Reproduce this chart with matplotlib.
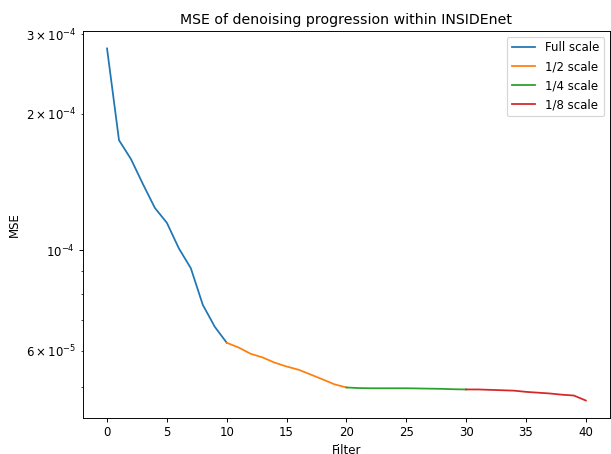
import matplotlib
matplotlib.use('Agg')
import matplotlib.pyplot as plt

full_x = list(range(0, 11))
full_mse = [2.79e-4, 1.75e-4, 1.59e-4, 1.40e-4, 1.24e-4, 1.15e-4,
            1.01e-4, 9.13e-5, 7.58e-5, 6.78e-5, 6.25e-5]

half_x = list(range(10, 21))
half_mse = [6.25e-5, 6.10e-5, 5.91e-5, 5.80e-5, 5.65e-5, 5.54e-5,
            5.45e-5, 5.32e-5, 5.19e-5, 5.06e-5, 4.98e-5]

quarter_x = list(range(20, 31))
quarter_mse = [4.98e-5, 4.965e-5, 4.96e-5, 4.96e-5, 4.96e-5, 4.96e-5,
               4.955e-5, 4.95e-5, 4.945e-5, 4.935e-5, 4.93e-5]

eighth_x = list(range(30, 41))
eighth_mse = [4.93e-5, 4.93e-5, 4.92e-5, 4.91e-5, 4.90e-5, 4.87e-5,
              4.85e-5, 4.83e-5, 4.80e-5, 4.78e-5, 4.66e-5]

# original looks like a default figure saved at a lower dpi
dpi = 85
fig = plt.figure(figsize=(611 / dpi, 454 / dpi), dpi=dpi)
ax = fig.add_axes([0.136, 0.079, 0.862, 0.853])

ax.plot(full_x, full_mse, label='Full scale')
ax.plot(half_x, half_mse, label='1/2 scale')
ax.plot(quarter_x, quarter_mse, label='1/4 scale')
ax.plot(eighth_x, eighth_mse, label='1/8 scale')

ax.set_yscale('log')
ax.set_title('MSE of denoising progression within INSIDEnet')
ax.set_xlabel('Filter')
ax.set_ylabel('MSE')
ax.legend(loc='upper right')

fig.savefig('out.png', dpi=dpi)
